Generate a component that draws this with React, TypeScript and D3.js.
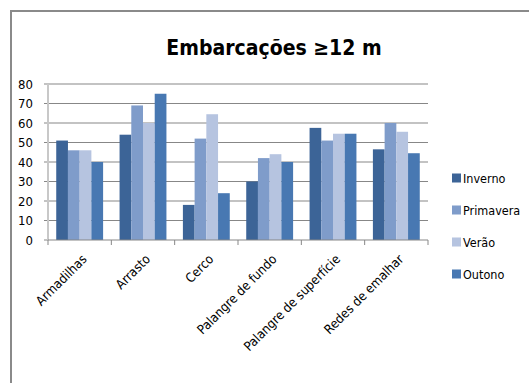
import React, { useEffect, useRef } from "react";
import * as d3 from "d3";

const categories = ["Armadilhas", "Arrasto", "Cerco", "Palangre de fundo", "Palangre de superfície", "Redes de emalhar"];
const seasons = ["Inverno", "Primavera", "Verão", "Outono"];
const inverno = [51, 54, 18, 30, 57.5, 46.5];
const primavera = [46, 69, 52, 42, 51, 60];
const verao = [46, 60, 64.5, 44, 54.5, 55.5];
const outono = [40, 75, 24, 40, 54.5, 44.5];
const yTicks = [0, 10, 20, 30, 40, 50, 60, 70, 80];
const colors = ["#3C6497", "#7F9CCA", "#B6C4E0", "#4878B2"];

const W = 529;
const H = 383;
const FONT = "'DejaVu Sans Condensed', 'Liberation Sans', sans-serif";

export default function App() {
  const ref = useRef<SVGSVGElement>(null);

  useEffect(() => {
    const svg = d3.select(ref.current);
    svg.selectAll("*").remove();

    const series = [inverno, primavera, verao, outono];
    const left = 48, right = 428, top = 84, bottom = 240;

    const x0 = d3.scaleBand().domain(categories).range([left, right]).paddingInner(0.26).paddingOuter(0.13);
    const x1 = d3.scaleBand().domain(seasons).range([0, x0.bandwidth()]);
    const y = d3.scaleLinear().domain([0, 80]).range([bottom, top]);

    svg.append("rect").attr("width", W).attr("height", H).attr("fill", "#fff");

    // chart border (top & left visible)
    svg.append("line").attr("x1", 10).attr("x2", W).attr("y1", 11).attr("y2", 11)
      .attr("stroke", "#8a8a8a").attr("stroke-width", 2);
    svg.append("line").attr("x1", 11).attr("x2", 11).attr("y1", 10).attr("y2", H)
      .attr("stroke", "#8a8a8a").attr("stroke-width", 2);

    // title
    svg.append("text").attr("x", 274).attr("y", 55).attr("text-anchor", "middle")
      .attr("font-family", FONT).attr("font-size", 21).attr("font-weight", "bold")
      .attr("fill", "#000").text("Embarcações ≥12 m");

    // gridlines
    svg.append("g").selectAll("line").data(yTicks.filter(d => d > 0)).enter().append("line")
      .attr("x1", left).attr("x2", right)
      .attr("y1", d => y(d)).attr("y2", d => y(d))
      .attr("stroke", "#878787").attr("stroke-width", 1);

    // y labels
    svg.append("g").selectAll("text").data(yTicks).enter().append("text")
      .attr("x", 33).attr("y", d => y(d) + 4.5).attr("text-anchor", "end")
      .attr("font-family", FONT).attr("font-size", 13).attr("fill", "#000")
      .text(d => d);
    svg.append("g").selectAll("line").data(yTicks).enter().append("line")
      .attr("x1", left - 4).attr("x2", left).attr("y1", d => y(d)).attr("y2", d => y(d))
      .attr("stroke", "#878787");

    // bars
    const g = svg.append("g");
    categories.forEach((c, i) => {
      g.selectAll(null).data(series.map(s => s[i])).enter().append("rect")
        .attr("x", (d, j) => (x0(c) as number) + (x1(seasons[j]) as number))
        .attr("width", x1.bandwidth())
        .attr("y", d => y(d))
        .attr("height", d => bottom - y(d))
        .attr("fill", (d, j) => colors[j]);
    });

    // axes lines
    svg.append("line").attr("x1", left).attr("x2", left).attr("y1", top).attr("y2", bottom)
      .attr("stroke", "#c8c8c8").attr("stroke-width", 2);
    svg.append("line").attr("x1", left).attr("x2", right).attr("y1", bottom).attr("y2", bottom)
      .attr("stroke", "#878787").attr("stroke-width", 1);
    const step = x0.step();
    svg.append("g").selectAll("line").data(d3.range(categories.length + 1)).enter().append("line")
      .attr("x1", i => left + i * step).attr("x2", i => left + i * step)
      .attr("y1", bottom).attr("y2", bottom + 5)
      .attr("stroke", "#878787");

    // x labels
    svg.append("g").selectAll("text").data(categories).enter().append("text")
      .attr("transform", d => `translate(${(x0(d) as number) + x0.bandwidth() / 2 + 8},${bottom + 20}) rotate(-45)`)
      .attr("text-anchor", "end")
      .attr("font-family", FONT).attr("font-size", 13).attr("fill", "#000")
      .text(d => d);

    // legend
    const lg = svg.append("g").selectAll("g").data(seasons).enter().append("g")
      .attr("transform", (d, i) => `translate(452,${178 + i * 32})`);
    lg.append("rect").attr("x", 0).attr("y", -4.5).attr("width", 9).attr("height", 9)
      .attr("fill", (d, i) => colors[i]);
    lg.append("text").attr("x", 11).attr("y", 5).attr("font-family", FONT)
      .attr("font-size", 12.5).attr("fill", "#000").text(d => d);
  }, []);

  return (
    <svg ref={ref} width={W} height={H} style={{ position: "absolute", left: 0, top: 0 }} />
  );
}
